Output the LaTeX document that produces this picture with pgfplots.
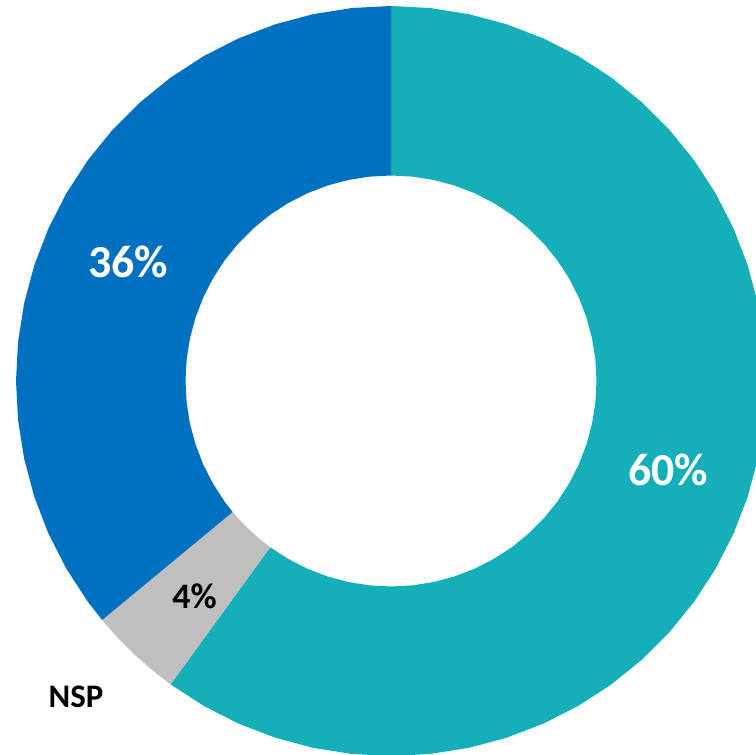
\documentclass[border=0pt]{standalone}
\usepackage{pgfplots}
\pgfplotsset{compat=1.18}
\usepackage{fontspec}
\setmainfont{Carlito}

\definecolor{tealpart}{HTML}{14AFB8}
\definecolor{bluepart}{HTML}{0070C0}
\definecolor{graypart}{HTML}{BFBFBF}

\begin{document}
\begin{tikzpicture}
\begin{axis}[
    width=756bp, height=755bp,
    scale only axis,
    hide axis,
    xmin=-391, xmax=365,
    ymin=-374, ymax=381,
    clip mode=individual,
]
% 60% : from 90 deg clockwise to -126 deg
\addplot[data cs=polar, fill=tealpart, draw=none] coordinates {
(90,375)(84,375)(78,375)(72,375)(66,375)(60,375)(54,375)(48,375)(42,375)(36,375)
(30,375)(24,375)(18,375)(12,375)(6,375)(0,375)(-6,375)(-12,375)(-18,375)(-24,375)
(-30,375)(-36,375)(-42,375)(-48,375)(-54,375)(-60,375)(-66,375)(-72,375)(-78,375)
(-84,375)(-90,375)(-96,375)(-102,375)(-108,375)(-114,375)(-120,375)(-126,375)
(-126,205.5)(-120,205.5)(-114,205.5)(-108,205.5)(-102,205.5)(-96,205.5)(-90,205.5)
(-84,205.5)(-78,205.5)(-72,205.5)(-66,205.5)(-60,205.5)(-54,205.5)(-48,205.5)
(-42,205.5)(-36,205.5)(-30,205.5)(-24,205.5)(-18,205.5)(-12,205.5)(-6,205.5)
(0,205.5)(6,205.5)(12,205.5)(18,205.5)(24,205.5)(30,205.5)(36,205.5)(42,205.5)
(48,205.5)(54,205.5)(60,205.5)(66,205.5)(72,205.5)(78,205.5)(84,205.5)(90,205.5)
} -- cycle;
% 4% : NSP
\addplot[data cs=polar, fill=graypart, draw=none] coordinates {
(234,375)(230.4,375)(226.8,375)(223.2,375)(219.6,375)
(219.6,205.5)(223.2,205.5)(226.8,205.5)(230.4,205.5)(234,205.5)
} -- cycle;
% 36%
\addplot[data cs=polar, fill=bluepart, draw=none] coordinates {
(219.6,375)(216,375)(210,375)(204,375)(198,375)(192,375)(186,375)(180,375)
(174,375)(168,375)(162,375)(156,375)(150,375)(144,375)(138,375)(132,375)
(126,375)(120,375)(114,375)(108,375)(102,375)(96,375)(90,375)
(90,205.5)(96,205.5)(102,205.5)(108,205.5)(114,205.5)(120,205.5)(126,205.5)
(132,205.5)(138,205.5)(144,205.5)(150,205.5)(156,205.5)(162,205.5)(168,205.5)
(174,205.5)(180,205.5)(186,205.5)(192,205.5)(198,205.5)(204,205.5)(210,205.5)
(216,205.5)(219.6,205.5)
} -- cycle;

\node[text=white, font=\fontsize{46}{50}\selectfont\bfseries] at (axis cs:277,-89) {60\%};
\node[text=white, font=\fontsize{46}{50}\selectfont\bfseries] at (axis cs:-263,119) {36\%};
\node[text=black, font=\fontsize{36}{40}\selectfont\bfseries] at (axis cs:-196.5,-215.5) {4\%};
\node[text=black, font=\fontsize{33}{38}\selectfont\bfseries] at (axis cs:-315,-315.5) {NSP};
\end{axis}
\pgfresetboundingbox
\useasboundingbox (current axis.south west) rectangle (current axis.north east);
\end{tikzpicture}
\end{document}
